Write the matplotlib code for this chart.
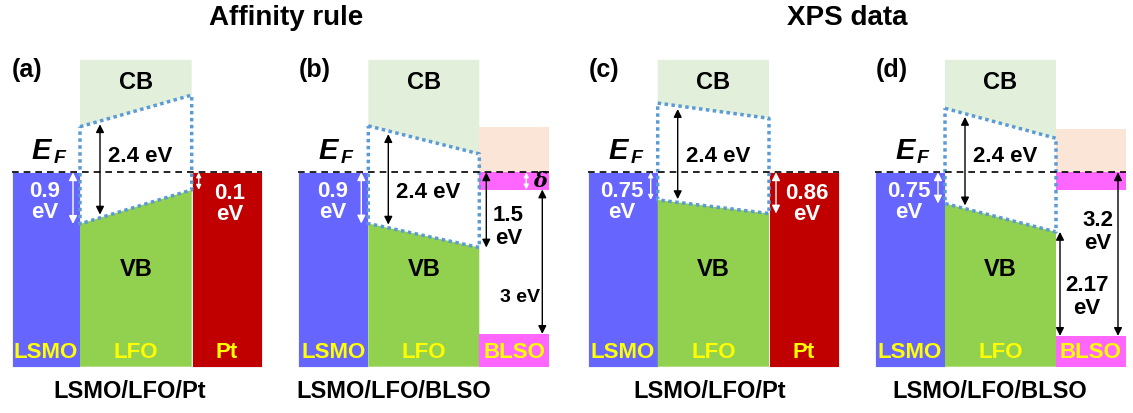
import matplotlib
matplotlib.use('Agg')
import matplotlib.pyplot as plt
from matplotlib.patches import Polygon, Rectangle

plt.rcParams['font.family'] = ['Liberation Sans', 'DejaVu Sans']

# ---------------- data (schematic energies in eV relative to E_F) -------------
titles = ['Affinity rule', 'XPS data']
panel_tags = ['(a)', '(b)', '(c)', '(d)']
stacks = ['LSMO/LFO/Pt', 'LSMO/LFO/BLSO', 'LSMO/LFO/Pt', 'LSMO/LFO/BLSO']
right_layer = ['Pt', 'BLSO', 'Pt', 'BLSO']
gap_label = ['2.4 eV', '2.4 eV', '2.4 eV', '2.4 eV']
lsmo_label = ['0.9\neV', '0.9\neV', '0.75\neV', '0.75\neV']
pt_label = ['0.1\neV', None, '0.86\neV', None]

lfo_cb_left = [1.14, 1.16, 1.73, 1.60]
lfo_cb_right = [1.93, 0.46, 1.35, 0.85]
lfo_vb_left = [-1.29, -1.28, -0.69, -0.78]
lfo_vb_right = [-0.44, -1.88, -1.03, -1.49]
band_top = 2.81
band_bottom = -4.86

blso_cb = [None, 1.12, None, 1.08]
blso_defect = [None, -0.43, None, -0.44]
blso_vb = [None, -4.04, None, -4.09]

# ---------------- layout ------------------------------------------------------
W, H = 1133, 413
EF_PX = 172.3
S = 40.0  # pixels per schematic eV


def ypx(py):
    return (EF_PX - py) / S


x_edges = [[11.7, 80, 191.7, 261.7],
           [298.3, 368.3, 479.3, 549.3],
           [588.3, 657.7, 769, 839],
           [875, 945, 1056, 1125.7]]
stack_x = [130, 394, 710, 990]
title_x = [286, 847]

C_LSMO = '#6666FF'
C_VB = '#92D050'
C_CB = '#E2EFDA'
C_PT = '#C00000'
C_MAG = '#FF66FF'
C_PEACH = '#FBE5D6'
C_DOT = '#5B9BD5'
C_YEL = '#FFFF00'

fig = plt.figure(figsize=(W / 100, H / 100), dpi=100)
ax = fig.add_axes([0, 0, 1, 1])
ax.set_xlim(0, W)
ax.set_ylim(ypx(H), ypx(0))
ax.axis('off')


def arrow(x, y1, y2, color='black'):
    length_px = abs(y2 - y1) * S
    ms = 12 if length_px > 30 else 7
    ax.annotate('', xy=(x, y2), xytext=(x, y1),
                arrowprops=dict(arrowstyle='<|-|>', color=color, lw=1.0,
                                mutation_scale=ms, shrinkA=0, shrinkB=0))


def interp(xa, xb, ya, yb, x):
    return ya + (yb - ya) * (x - xa) / (xb - xa)


for i in range(4):
    x0, x1, x2, x3 = x_edges[i]
    cbL, cbR = lfo_cb_left[i], lfo_cb_right[i]
    vbL, vbR = lfo_vb_left[i], lfo_vb_right[i]

    # LSMO
    ax.add_patch(Rectangle((x0, band_bottom), x1 - x0, 0 - band_bottom,
                           facecolor=C_LSMO, edgecolor='white', lw=0.6, zorder=1))
    # LFO conduction band
    ax.add_patch(Polygon([(x1, band_top), (x2, band_top), (x2, cbR), (x1, cbL)],
                         closed=True, facecolor=C_CB, edgecolor='none', zorder=1))
    # LFO valence band
    ax.add_patch(Polygon([(x1, vbL), (x2, vbR), (x2, band_bottom), (x1, band_bottom)],
                         closed=True, facecolor=C_VB, edgecolor='none', zorder=1))
    # gap outline (dotted)
    ax.plot([x1, x2, x2, x1, x1], [cbL, cbR, vbR, vbL, cbL], color=C_DOT,
            lw=2.5, linestyle=(0, (1, 1.0)), zorder=3)

    # right electrode
    if right_layer[i] == 'Pt':
        ax.add_patch(Rectangle((x2, band_bottom), x3 - x2, 0 - band_bottom,
                               facecolor=C_PT, edgecolor='white', lw=0.6, zorder=1))
    else:
        ax.add_patch(Rectangle((x2, 0), x3 - x2, blso_cb[i],
                               facecolor=C_PEACH, edgecolor='none', zorder=1))
        ax.add_patch(Rectangle((x2, blso_defect[i]), x3 - x2, -blso_defect[i],
                               facecolor=C_MAG, edgecolor='none', zorder=1))
        ax.add_patch(Rectangle((x2, band_bottom), x3 - x2, blso_vb[i] - band_bottom,
                               facecolor=C_MAG, edgecolor='none', zorder=1))

    # Fermi level
    ax.plot([x0, x3], [0, 0], color='black', lw=1.2, linestyle=(0, (4, 3)), zorder=4)

    # labels
    ax.text(x0 + 0.5, ypx(70), panel_tags[i], fontsize=18, fontweight='bold',
            ha='left', va='center', zorder=5)
    ax.text(x0 + 20, ypx(151), 'E', fontsize=21, fontweight='bold', style='italic',
            ha='left', va='center', zorder=5)
    ax.text(x0 + 42, ypx(159), 'F', fontsize=14, fontweight='bold', style='italic',
            ha='left', va='center', zorder=5)
    xm = (x1 + x2) / 2
    ax.text(xm, ypx(83), 'CB', fontsize=17, fontweight='bold', ha='center', va='center', zorder=5)
    ax.text(xm, ypx(270), 'VB', fontsize=17, fontweight='bold', ha='center', va='center', zorder=5)
    ax.text((x0 + x1) / 2, ypx(352), 'LSMO', fontsize=16, fontweight='bold', color=C_YEL,
            ha='center', va='center', zorder=5)
    ax.text(xm, ypx(352), 'LFO', fontsize=16, fontweight='bold', color=C_YEL,
            ha='center', va='center', zorder=5)
    ax.text((x2 + x3) / 2, ypx(352), right_layer[i], fontsize=16, fontweight='bold',
            color=C_YEL, ha='center', va='center', zorder=5)
    ax.text(stack_x[i], ypx(392), stacks[i], fontsize=17, fontweight='bold',
            ha='center', va='center', zorder=5)

    # LSMO offset arrow
    arrow(x1 - 7, 0, vbL, color='white')
    ax.text((x0 + x1) / 2 - 1, ypx(202), lsmo_label[i], fontsize=16, fontweight='bold',
            color='white', ha='center', va='center', linespacing=1.0, zorder=5)

    # LFO gap arrow
    xa = x1 + 20
    ya_top = interp(x1, x2, cbL, cbR, xa) - 0.08
    ya_bot = interp(x1, x2, vbL, vbR, xa) + 0.08
    arrow(xa, ya_top, ya_bot)
    gy = 193 if i == 1 else 157
    ax.text(x1 + 60, ypx(gy), gap_label[i], fontsize=16, fontweight='bold',
            ha='center', va='center', zorder=5)

    if right_layer[i] == 'Pt':
        arrow(x2 + 7, 0, vbR, color='white')
        ax.text((x2 + x3) / 2 + 3, ypx(204), pt_label[i], fontsize=16, fontweight='bold',
                color='white', ha='center', va='center', linespacing=1.0, zorder=5)

# panel (b) BLSO annotations
x0, x1, x2, x3 = x_edges[1]
arrow(x2 + 7, 0, lfo_vb_right[1])
ax.text(x2 + 29, ypx(227), '1.5\neV', fontsize=16, fontweight='bold',
        ha='center', va='center', linespacing=1.1, zorder=5)
arrow(x2 + 47, 0, blso_defect[1], color='white')
ax.text(x2 + 61, ypx(181), 'δ', fontsize=15, fontweight='bold', style='italic',
        family=['DejaVu Serif'], ha='center', va='center', zorder=5)
arrow(x2 + 63, blso_defect[1], blso_vb[1])
ax.text(x2 + 41, ypx(297), '3 eV', fontsize=14, fontweight='bold',
        ha='center', va='center', zorder=5)

# panel (d) BLSO annotations
x0, x1, x2, x3 = x_edges[3]
arrow(x2 + 4, lfo_vb_right[3], blso_vb[3])
ax.text(x2 + 31, ypx(297), '2.17\neV', fontsize=16, fontweight='bold',
        ha='center', va='center', linespacing=1.1, zorder=5)
arrow(x2 + 62, 0, blso_vb[3])
ax.text(x2 + 42, ypx(232), '3.2\neV', fontsize=16, fontweight='bold',
        ha='center', va='center', linespacing=1.1, zorder=5)

# titles
for t, tx in zip(titles, title_x):
    ax.text(tx, ypx(18), t, fontsize=20, fontweight='bold', ha='center', va='center')

fig.savefig('out.png', dpi=100)
